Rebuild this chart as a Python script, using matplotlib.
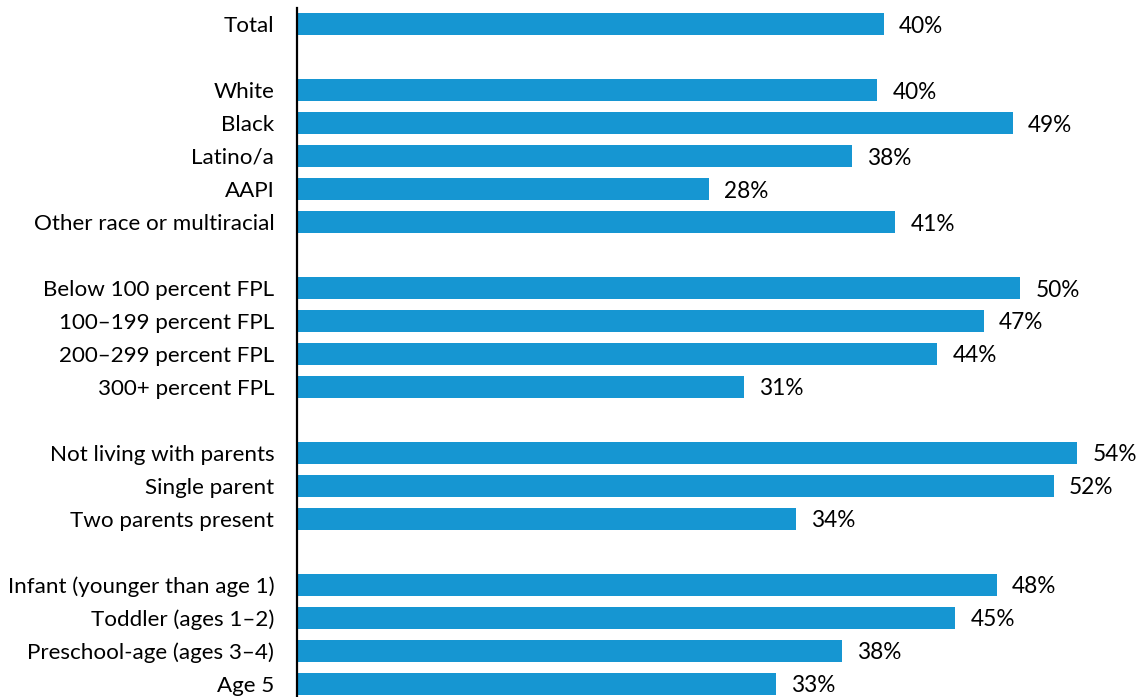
import matplotlib
matplotlib.use('Agg')
import matplotlib.pyplot as plt

plt.rcParams['font.family'] = ['Lato', 'DejaVu Sans']

# categories in display order, None marks a blank row between groups
categories = ['Total', None,
              'White', 'Black', 'Latino/a', 'AAPI', 'Other race or multiracial', None,
              'Below 100 percent FPL', '100\u2013199 percent FPL', '200\u2013299 percent FPL', '300+ percent FPL', None,
              'Not living with parents', 'Single parent', 'Two parents present', None,
              'Infant (younger than age 1)', 'Toddler (ages 1\u20132)', 'Preschool-age (ages 3\u20134)', 'Age 5']
values = [40.46, None,
          40.02, 49.38, 38.28, 28.41, 41.26, None,
          49.88, 47.38, 44.16, 30.83, None,
          53.81, 52.2, 34.41, None,
          48.28, 45.4, 37.57, 33.03]

bar_color = '#1696d2'

fig = plt.figure(figsize=(11.44, 6.97), dpi=100)
ax = fig.add_axes([296.5 / 1144, 0, 1 - 296.5 / 1144, 1 - 8 / 697])

ypos = [i for i, v in enumerate(values) if v is not None]
vals = [v for v in values if v is not None]
labs = [c for c in categories if c is not None]

ax.barh(ypos, vals, height=0.667, color=bar_color)

# value labels right of each bar
for y, v in zip(ypos, vals):
    ax.annotate(f'{round(v)}%', xy=(v, y), xytext=(11, -1.5), textcoords='offset points',
                va='center', ha='left', fontsize=16.3, color='#000000')

ax.set_yticks(ypos)
ax.set_yticklabels(labs, fontsize=16.1, color='#000000')
ax.tick_params(axis='y', length=0, pad=16)
ax.set_xticks([])

ax.set_xlim(0, 847 / 14.5)
ax.set_ylim(20.4, -0.485)

for s in ['top', 'right', 'bottom']:
    ax.spines[s].set_visible(False)
ax.spines['left'].set_linewidth(1.6)
ax.spines['left'].set_color('#000000')

fig.savefig('out.png', dpi=100)
